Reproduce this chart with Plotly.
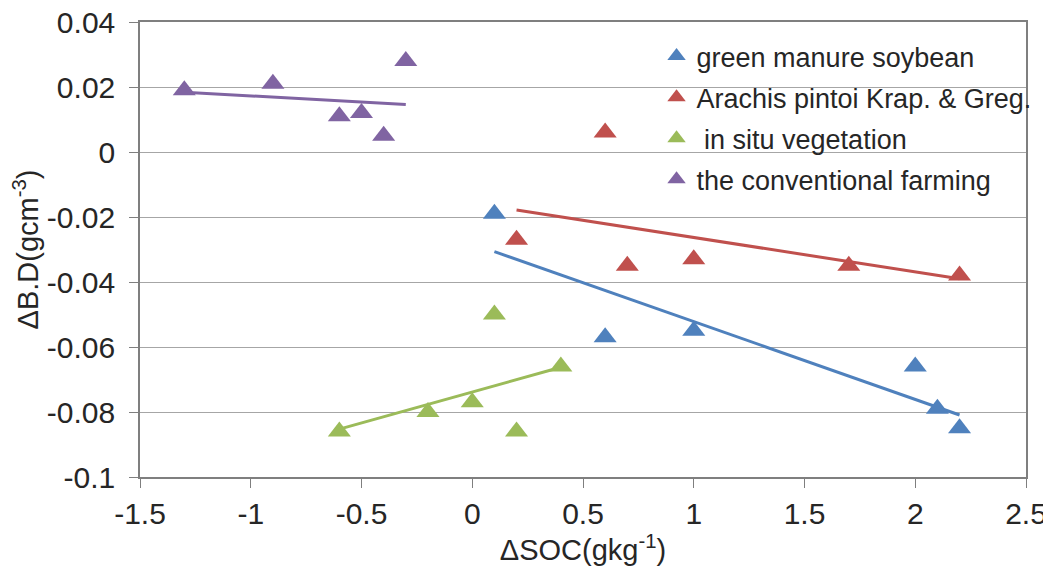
import numpy as np
import plotly.graph_objects as go

# ---- data ----
series_names = ["green manure soybean", "Arachis pintoi Krap. & Greg.",
                " in situ vegetation", "the conventional farming"]
soybean_x = [0.1, 0.6, 1.0, 2.0, 2.1, 2.2]
soybean_y = [-0.019, -0.057, -0.055, -0.066, -0.079, -0.085]
arachis_x = [0.2, 0.6, 0.7, 1.0, 1.7, 2.2]
arachis_y = [-0.027, 0.006, -0.035, -0.033, -0.035, -0.038]
insitu_x = [-0.6, -0.2, 0.0, 0.1, 0.2, 0.4]
insitu_y = [-0.086, -0.080, -0.077, -0.050, -0.086, -0.066]
conv_x = [-1.3, -0.9, -0.6, -0.5, -0.4, -0.3]
conv_y = [0.019, 0.021, 0.011, 0.012, 0.005, 0.028]

x_tickvals = [-1.5, -1, -0.5, 0, 0.5, 1, 1.5, 2, 2.5]
x_ticktext = ["-1.5", "-1", "-0.5", "0", "0.5", "1", "1.5", "2", "2.5"]
y_tickvals = [0.04, 0.02, 0, -0.02, -0.04, -0.06, -0.08, -0.1]
y_ticktext = ["0.04", "0.02", "0", "-0.02", "-0.04", "-0.06", "-0.08", "-0.1"]

colors = ["#4F81BD", "#C0504D", "#9BBB59", "#8064A2"]

FONT = "Liberation Sans, Arial, sans-serif"
TXT = "#262626"

fig = go.Figure()
data = [(soybean_x, soybean_y), (arachis_x, arachis_y),
        (insitu_x, insitu_y), (conv_x, conv_y)]

# trend lines (least squares)
for (xs, ys), c, name in zip(data, colors, series_names):
    xs_a = np.array(xs)
    k, b = np.polyfit(xs_a, np.array(ys), 1)
    lx = np.array([xs_a.min(), xs_a.max()])
    fig.add_trace(go.Scatter(x=lx, y=k * lx + b, mode="lines",
                             line=dict(color=c, width=3),
                             showlegend=False, hoverinfo="skip",
                             legendgroup=name))

for (xs, ys), c, name in zip(data, colors, series_names):
    fig.add_trace(go.Scatter(x=xs, y=ys, mode="markers", name=name,
                             legendgroup=name,
                             marker=dict(symbol="triangle-up", size=20,
                                         color=c, line=dict(width=0))))

fig.update_layout(
    width=1043, height=561,
    margin=dict(l=132, r=25, t=14, b=92),
    paper_bgcolor="white", plot_bgcolor="white",
    font=dict(family=FONT, size=30, color=TXT),
    legend=dict(x=0.583, y=0.978, xanchor="left", yanchor="top",
                bgcolor="rgba(0,0,0,0)", borderwidth=0,
                font=dict(size=27, color=TXT),
                traceorder="grouped", tracegroupgap=3),
    xaxis=dict(range=[-1.5, 2.5], tickvals=x_tickvals, ticktext=x_ticktext,
               showgrid=False, zeroline=False, automargin=False,
               showline=True, linecolor="#7f7f7f", linewidth=1.5, mirror=True,
               ticks="outside", ticklen=9, tickcolor="#7f7f7f",
               ticklabeloverflow="allow",
               tickfont=dict(size=30),
               title=dict(text="ΔSOC(gkg<sup>-1</sup>)", font=dict(size=29),
                          standoff=0)),
    yaxis=dict(range=[-0.1, 0.04], tickvals=y_tickvals, ticktext=y_ticktext,
               showgrid=True, gridcolor="#a6a6a6", gridwidth=1,
               zeroline=False, automargin=False,
               showline=True, linecolor="#7f7f7f", linewidth=1.5, mirror=True,
               ticks="outside", ticklen=9, tickcolor="#7f7f7f",
               ticklabelstandoff=8, ticklabeloverflow="allow",
               tickfont=dict(size=30),
               title=dict(text="ΔB.D(gcm<sup>-3</sup>)", font=dict(size=29),
                          standoff=6)),
)

fig.write_html("out.html")
